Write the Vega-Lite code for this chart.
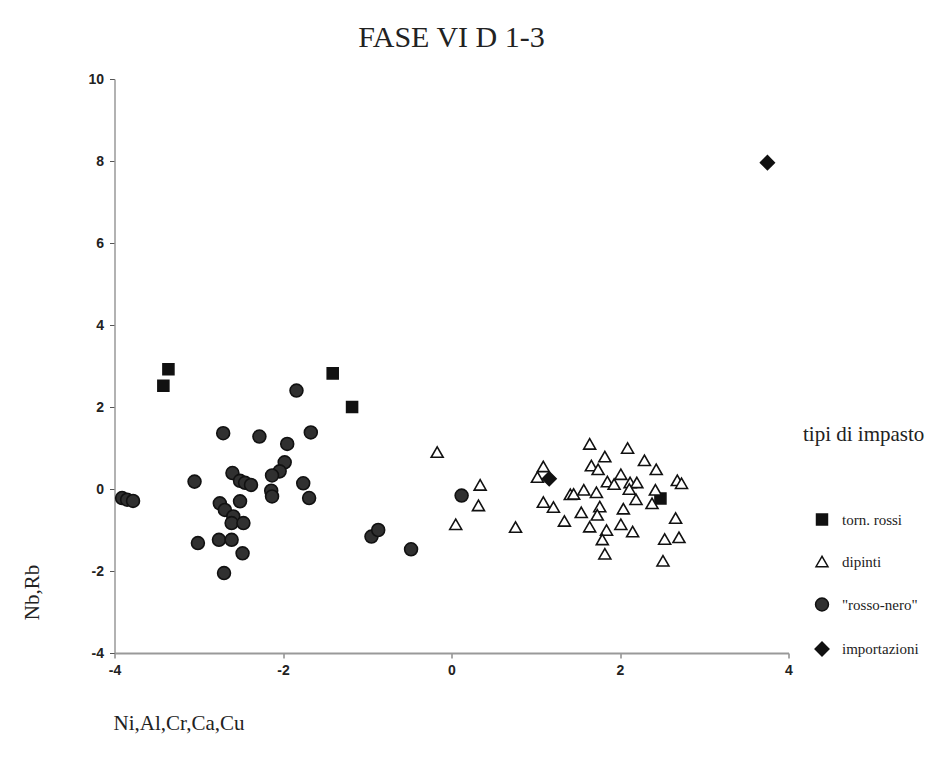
{
  "$schema": "https://vega.github.io/schema/vega-lite/v6.json",
  "autosize": "none",
  "width": 674,
  "height": 574,
  "padding": {"left": 114.5, "top": 79, "right": 163.5, "bottom": 104},
  "background": "white",
  "title": {"text": "FASE VI D 1-3", "font": "Liberation Serif", "fontSize": 30, "fontWeight": "normal", "color": "#222", "anchor": "middle", "baseline": "alphabetic", "offset": 29, "dy": 34},
  "data": {"values": [
    {"x": -3.36, "y": 2.92, "tipo": "torn. rossi"},
    {"x": -3.42, "y": 2.52, "tipo": "torn. rossi"},
    {"x": -1.41, "y": 2.82, "tipo": "torn. rossi"},
    {"x": -1.18, "y": 2.00, "tipo": "torn. rossi"},
    {"x": 2.48, "y": -0.23, "tipo": "torn. rossi"},
    {"x": -0.17, "y": 0.90, "tipo": "dipinti"},
    {"x": 0.34, "y": 0.10, "tipo": "dipinti"},
    {"x": 0.32, "y": -0.40, "tipo": "dipinti"},
    {"x": 0.05, "y": -0.86, "tipo": "dipinti"},
    {"x": 0.76, "y": -0.93, "tipo": "dipinti"},
    {"x": 1.09, "y": 0.55, "tipo": "dipinti"},
    {"x": 1.02, "y": 0.29, "tipo": "dipinti"},
    {"x": 1.09, "y": -0.32, "tipo": "dipinti"},
    {"x": 1.21, "y": -0.44, "tipo": "dipinti"},
    {"x": 1.34, "y": -0.78, "tipo": "dipinti"},
    {"x": 1.41, "y": -0.13, "tipo": "dipinti"},
    {"x": 1.45, "y": -0.12, "tipo": "dipinti"},
    {"x": 1.57, "y": -0.02, "tipo": "dipinti"},
    {"x": 1.54, "y": -0.57, "tipo": "dipinti"},
    {"x": 1.64, "y": -0.92, "tipo": "dipinti"},
    {"x": 1.72, "y": -0.08, "tipo": "dipinti"},
    {"x": 1.76, "y": -0.43, "tipo": "dipinti"},
    {"x": 1.73, "y": -0.63, "tipo": "dipinti"},
    {"x": 1.64, "y": 1.10, "tipo": "dipinti"},
    {"x": 1.66, "y": 0.57, "tipo": "dipinti"},
    {"x": 1.74, "y": 0.48, "tipo": "dipinti"},
    {"x": 1.82, "y": 0.79, "tipo": "dipinti"},
    {"x": 1.84, "y": -1.00, "tipo": "dipinti"},
    {"x": 1.79, "y": -1.23, "tipo": "dipinti"},
    {"x": 1.82, "y": -1.58, "tipo": "dipinti"},
    {"x": 1.85, "y": 0.18, "tipo": "dipinti"},
    {"x": 1.93, "y": 0.12, "tipo": "dipinti"},
    {"x": 2.01, "y": 0.36, "tipo": "dipinti"},
    {"x": 2.04, "y": -0.48, "tipo": "dipinti"},
    {"x": 2.01, "y": -0.86, "tipo": "dipinti"},
    {"x": 2.15, "y": -1.04, "tipo": "dipinti"},
    {"x": 2.09, "y": 1.00, "tipo": "dipinti"},
    {"x": 2.12, "y": 0.16, "tipo": "dipinti"},
    {"x": 2.20, "y": 0.16, "tipo": "dipinti"},
    {"x": 2.11, "y": 0.00, "tipo": "dipinti"},
    {"x": 2.19, "y": -0.25, "tipo": "dipinti"},
    {"x": 2.29, "y": 0.70, "tipo": "dipinti"},
    {"x": 2.43, "y": 0.48, "tipo": "dipinti"},
    {"x": 2.42, "y": -0.02, "tipo": "dipinti"},
    {"x": 2.38, "y": -0.35, "tipo": "dipinti"},
    {"x": 2.68, "y": 0.21, "tipo": "dipinti"},
    {"x": 2.73, "y": 0.14, "tipo": "dipinti"},
    {"x": 2.66, "y": -0.71, "tipo": "dipinti"},
    {"x": 2.70, "y": -1.18, "tipo": "dipinti"},
    {"x": 2.53, "y": -1.22, "tipo": "dipinti"},
    {"x": 2.51, "y": -1.75, "tipo": "dipinti"},
    {"x": -3.91, "y": -0.22, "tipo": "\"rosso-nero\""},
    {"x": -3.85, "y": -0.26, "tipo": "\"rosso-nero\""},
    {"x": -3.78, "y": -0.29, "tipo": "\"rosso-nero\""},
    {"x": -3.05, "y": 0.18, "tipo": "\"rosso-nero\""},
    {"x": -3.01, "y": -1.32, "tipo": "\"rosso-nero\""},
    {"x": -2.71, "y": 1.36, "tipo": "\"rosso-nero\""},
    {"x": -2.28, "y": 1.28, "tipo": "\"rosso-nero\""},
    {"x": -1.84, "y": 2.40, "tipo": "\"rosso-nero\""},
    {"x": -1.67, "y": 1.38, "tipo": "\"rosso-nero\""},
    {"x": -1.95, "y": 1.10, "tipo": "\"rosso-nero\""},
    {"x": -1.98, "y": 0.65, "tipo": "\"rosso-nero\""},
    {"x": -2.04, "y": 0.43, "tipo": "\"rosso-nero\""},
    {"x": -2.13, "y": 0.33, "tipo": "\"rosso-nero\""},
    {"x": -2.14, "y": -0.04, "tipo": "\"rosso-nero\""},
    {"x": -2.13, "y": -0.18, "tipo": "\"rosso-nero\""},
    {"x": -1.76, "y": 0.14, "tipo": "\"rosso-nero\""},
    {"x": -1.69, "y": -0.22, "tipo": "\"rosso-nero\""},
    {"x": -2.60, "y": 0.39, "tipo": "\"rosso-nero\""},
    {"x": -2.51, "y": 0.20, "tipo": "\"rosso-nero\""},
    {"x": -2.45, "y": 0.15, "tipo": "\"rosso-nero\""},
    {"x": -2.38, "y": 0.10, "tipo": "\"rosso-nero\""},
    {"x": -2.75, "y": -0.35, "tipo": "\"rosso-nero\""},
    {"x": -2.69, "y": -0.51, "tipo": "\"rosso-nero\""},
    {"x": -2.51, "y": -0.30, "tipo": "\"rosso-nero\""},
    {"x": -2.59, "y": -0.67, "tipo": "\"rosso-nero\""},
    {"x": -2.61, "y": -0.83, "tipo": "\"rosso-nero\""},
    {"x": -2.47, "y": -0.83, "tipo": "\"rosso-nero\""},
    {"x": -2.76, "y": -1.24, "tipo": "\"rosso-nero\""},
    {"x": -2.61, "y": -1.24, "tipo": "\"rosso-nero\""},
    {"x": -2.48, "y": -1.57, "tipo": "\"rosso-nero\""},
    {"x": -2.70, "y": -2.05, "tipo": "\"rosso-nero\""},
    {"x": -0.95, "y": -1.16, "tipo": "\"rosso-nero\""},
    {"x": -0.87, "y": -1.00, "tipo": "\"rosso-nero\""},
    {"x": -0.48, "y": -1.47, "tipo": "\"rosso-nero\""},
    {"x": 0.12, "y": -0.16, "tipo": "\"rosso-nero\""},
    {"x": 3.75, "y": 7.96, "tipo": "importazioni"},
    {"x": 1.16, "y": 0.25, "tipo": "importazioni"}
  ]},
  "mark": {"type": "point", "filled": true, "strokeWidth": 1.6, "opacity": 1},
  "encoding": {
    "x": {
      "field": "x", "type": "quantitative",
      "scale": {"domain": [-4, 4], "nice": false, "zero": false},
      "axis": {
        "title": "Ni,Al,Cr,Ca,Cu", "titleFont": "Liberation Serif", "titleFontSize": 21, "titleFontWeight": "normal", "titleColor": "#222",
        "titleAlign": "left", "titleAnchor": "start", "titleX": -1.5, "titleY": 76, "titleBaseline": "alphabetic",
        "values": [-4, -2, 0, 2, 4], "labelExpr": "toString(datum.value)",
        "labelFont": "Liberation Sans", "labelFontWeight": "bold", "labelFontSize": 14, "labelColor": "#222", "labelPadding": 5, "labelFlush": false,
        "tickColor": "#555", "tickSize": 5, "domainColor": "#999", "domainWidth": 2, "grid": false
      }
    },
    "y": {
      "field": "y", "type": "quantitative",
      "scale": {"domain": [-4, 10], "nice": false, "zero": false},
      "axis": {
        "title": "Nb,Rb", "titleFont": "Liberation Serif", "titleFontSize": 21, "titleFontWeight": "normal", "titleColor": "#222",
        "titleAngle": -90, "titleAlign": "center", "titleBaseline": "middle", "titleX": -82, "titleY": 513,
        "values": [-4, -2, 0, 2, 4, 6, 8, 10], "labelExpr": "toString(datum.value)",
        "labelFont": "Liberation Sans", "labelFontWeight": "bold", "labelFontSize": 14, "labelColor": "#222", "labelPadding": 6, "labelFlush": false,
        "tickColor": "#555", "tickSize": 5, "domainColor": "#999", "domainWidth": 1.5, "grid": false
      }
    },
    "shape": {
      "field": "tipo", "type": "nominal", "title": "tipi di impasto",
      "scale": {"domain": ["torn. rossi", "dipinti", "\"rosso-nero\"", "importazioni"], "range": ["square", "triangle-up", "circle", "diamond"]},
      "legend": {"encode": {"symbols": {"update": {"stroke": {"value": "#111111"}, "strokeWidth": {"value": 1.6}}}}}
    },
    "fill": {
      "field": "tipo", "type": "nominal", "title": "tipi di impasto",
      "scale": {"domain": ["torn. rossi", "dipinti", "\"rosso-nero\"", "importazioni"], "range": ["#111111", "#ffffff", "#303030", "#111111"]}
    },
    "size": {
      "field": "tipo", "type": "nominal", "title": "tipi di impasto",
      "scale": {"domain": ["torn. rossi", "dipinti", "\"rosso-nero\"", "importazioni"], "range": [120, 190, 260, 180]}
    },
    "stroke": {"value": "#111111"}
  },
  "config": {
    "view": {"stroke": null},
    "legend": {
      "orient": "none", "legendX": 688.5, "legendY": 345,
      "titleFont": "Liberation Serif", "titleFontSize": 21, "titleFontWeight": "normal", "titleColor": "#222", "titlePadding": 67,
      "labelFont": "Liberation Serif", "labelFontSize": 15, "labelColor": "#222",
      "rowPadding": 25, "symbolOffset": 11, "labelOffset": 12, "padding": 0
    }
  }
}
